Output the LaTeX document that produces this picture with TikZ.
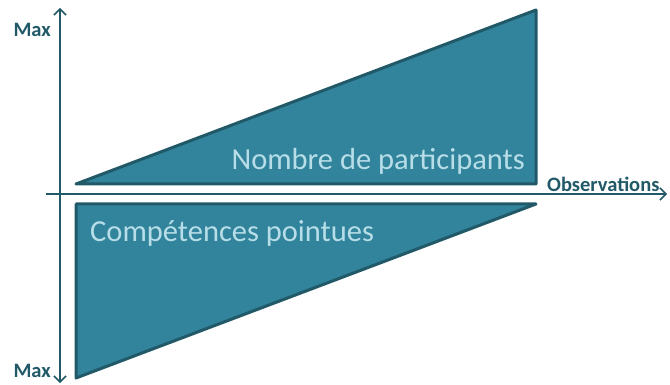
\documentclass[tikz,border=0pt]{standalone}
\usepackage{fontspec}
\setmainfont{Carlito}
\usetikzlibrary{arrows.meta}
\definecolor{fillc}{HTML}{31849B}
\definecolor{edgec}{HTML}{215968}
\definecolor{txtlight}{HTML}{B7DEE8}
\begin{document}
\begin{tikzpicture}[x=1pt,y=-1pt,
  shapebox/.style={fill=fillc,draw=edgec,line width=3pt,line join=round},
  axis/.style={draw=edgec,line width=1.5pt,-{Straight Barb[length=6pt,width=12pt]}},
  axlabel/.style={text=edgec,font=\bfseries\fontsize{20.5}{24}\selectfont,inner sep=0pt},
  biglabel/.style={text=txtlight,font=\fontsize{30.5}{36}\selectfont,inner sep=0pt}]
\useasboundingbox (0,0) rectangle (670,385);
\filldraw[shapebox] (76,184) -- (536,10) -- (536,184) -- cycle;
\filldraw[shapebox] (76,204) -- (536,204) -- (76,378) -- cycle;
\coordinate (vtop) at (60,8);
\coordinate (vbot) at (60,383);
\coordinate (vmid) at (60,194);
\coordinate (hl) at (46,194);
\coordinate (hr) at (667,194);
\draw[axis] (vmid) -- (vtop);
\draw[axis] (vmid) -- (vbot);
\draw[axis] (hl) -- (hr);
\node[axlabel,anchor=base east] (max1) at (51,37) {Max};
\node[axlabel,anchor=base east] (max2) at (51,377) {Max};
\node[axlabel,anchor=base west] (obs) at (547,192) {Observations};
\node[biglabel,anchor=base east] (np) at (525,170) {Nombre de participants};
\node[biglabel,anchor=base west] (cp) at (90,242) {Compétences pointues};
\end{tikzpicture}
\end{document}
